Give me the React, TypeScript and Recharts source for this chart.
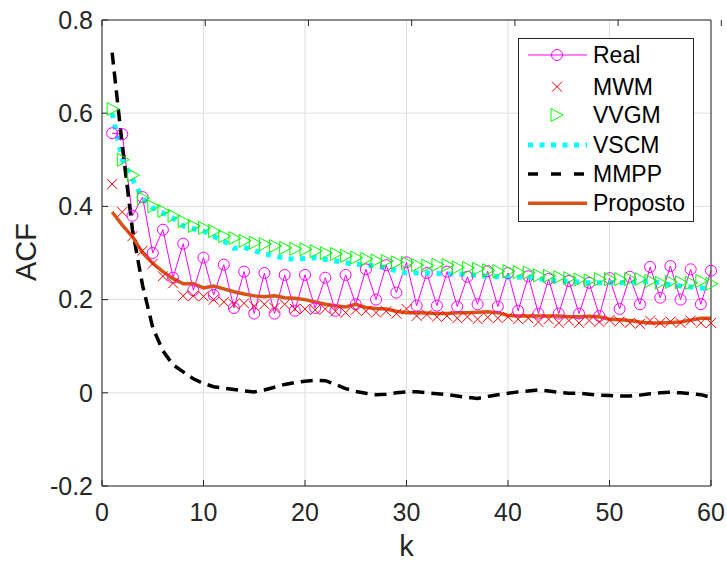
import { CartesianGrid, Legend, Line, LineChart, XAxis, YAxis } from "recharts";

const kValues = [
  1, 2, 3, 4, 5, 6, 7, 8, 9, 10, 11, 12, 13, 14, 15, 16, 17, 18, 19, 20,
  21, 22, 23, 24, 25, 26, 27, 28, 29, 30, 31, 32, 33, 34, 35, 36, 37, 38, 39, 40,
  41, 42, 43, 44, 45, 46, 47, 48, 49, 50, 51, 52, 53, 54, 55, 56, 57, 58, 59, 60,
];

const realAcf = [
  0.557, 0.555, 0.38, 0.42, 0.3, 0.35, 0.247, 0.32, 0.22, 0.29,
  0.21, 0.275, 0.182, 0.26, 0.17, 0.257, 0.17, 0.253, 0.176, 0.253,
  0.182, 0.247, 0.176, 0.253, 0.19, 0.265, 0.2, 0.274, 0.215, 0.28,
  0.187, 0.257, 0.187, 0.26, 0.185, 0.249, 0.19, 0.261, 0.185, 0.257,
  0.176, 0.25, 0.17, 0.244, 0.17, 0.24, 0.17, 0.236, 0.165, 0.246,
  0.18, 0.249, 0.19, 0.27, 0.204, 0.272, 0.2, 0.265, 0.19, 0.262,
];

const mwmAcf = [
  0.448, 0.388, 0.336, 0.305, 0.277, 0.25, 0.235, 0.208, 0.208, 0.207,
  0.2, 0.195, 0.19, 0.192, 0.186, 0.19, 0.182, 0.19, 0.18, 0.18,
  0.178, 0.18, 0.175, 0.172, 0.178, 0.175, 0.172, 0.175, 0.17, 0.18,
  0.165, 0.168, 0.163, 0.165, 0.16, 0.163, 0.158, 0.162, 0.16, 0.163,
  0.158, 0.16, 0.152, 0.158, 0.15, 0.155, 0.15, 0.155, 0.152, 0.156,
  0.153, 0.15, 0.148, 0.155, 0.15, 0.153, 0.15, 0.155, 0.15, 0.15,
];

const vvgmAcf = [
  0.609, 0.5, 0.467, 0.418, 0.4, 0.39, 0.38, 0.368, 0.358, 0.354,
  0.347, 0.336, 0.332, 0.326, 0.322, 0.319, 0.315, 0.311, 0.309, 0.308,
  0.304, 0.3, 0.298, 0.294, 0.29, 0.287, 0.284, 0.283, 0.28, 0.279,
  0.274, 0.273, 0.275, 0.274, 0.269, 0.268, 0.266, 0.263, 0.261, 0.261,
  0.259, 0.258, 0.252, 0.251, 0.248, 0.246, 0.243, 0.241, 0.244, 0.244,
  0.244, 0.244, 0.244, 0.24, 0.236, 0.238, 0.237, 0.236, 0.24, 0.234,
];

const vscmAcf = [
  0.6, 0.5, 0.458, 0.418, 0.397, 0.386, 0.375, 0.358, 0.352, 0.347,
  0.336, 0.326, 0.31, 0.312, 0.305, 0.298, 0.294, 0.288, 0.287, 0.288,
  0.29, 0.286, 0.283, 0.279, 0.276, 0.274, 0.272, 0.268, 0.262, 0.257,
  0.257, 0.257, 0.256, 0.255, 0.255, 0.254, 0.252, 0.25, 0.249, 0.247,
  0.248, 0.249, 0.245, 0.241, 0.24, 0.24, 0.238, 0.236, 0.236, 0.236,
  0.236, 0.237, 0.238, 0.24, 0.236, 0.232, 0.229, 0.227, 0.225, 0.222,
];

const mmppAcf = [
  0.73, 0.53, 0.35, 0.23, 0.14, 0.09, 0.06, 0.045, 0.03, 0.02,
  0.013, 0.01, 0.007, 0.004, 0.002, 0.006, 0.012, 0.018, 0.022, 0.025,
  0.027, 0.026, 0.018, 0.009, 0.003, -0.001, -0.004, -0.003, 0, 0.002,
  0.002, 0, -0.002, -0.004, -0.007, -0.01, -0.012, -0.008, -0.004, -0.001,
  0.002, 0.004, 0.006, 0.004, 0.001, -0.001, -0.001, -0.003, -0.005, -0.006,
  -0.007, -0.007, -0.005, -0.002, 0, 0.001, 0, -0.002, -0.004, -0.01,
];

const propostoAcf = [
  0.388, 0.36, 0.335, 0.3, 0.278, 0.26, 0.245, 0.234, 0.234, 0.225,
  0.229, 0.223, 0.217, 0.212, 0.208, 0.206, 0.208, 0.204, 0.203, 0.2,
  0.195, 0.19, 0.187, 0.184, 0.19, 0.183, 0.181, 0.18, 0.175, 0.172,
  0.172, 0.171, 0.17, 0.17, 0.172, 0.172, 0.173, 0.174, 0.172, 0.166,
  0.165, 0.165, 0.165, 0.165, 0.165, 0.163, 0.163, 0.164, 0.163, 0.158,
  0.157, 0.155, 0.152, 0.15, 0.15, 0.151, 0.152, 0.156, 0.16, 0.16,
];

const xTicks = [0, 10, 20, 30, 40, 50, 60];
const yTicks = [-0.2, 0, 0.2, 0.4, 0.6, 0.8];
const seriesNames = ["Real", "MWM", "VVGM", "VSCM", "MMPP", "Proposto"];

const data = kValues.map((k, i) => ({
  k,
  real: realAcf[i],
  mwm: mwmAcf[i],
  vvgm: vvgmAcf[i],
  vscm: vscmAcf[i],
  mmpp: mmppAcf[i],
  proposto: propostoAcf[i],
}));

const FONT = '"Liberation Sans", Arial, Helvetica, sans-serif';
const AXIS = "#262626";
const MAGENTA = "#ff00ff";
const RED = "#ff0000";
const GREEN = "#00ff00";
const CYAN = "#00ffff";
const ORANGE = "#d95319";

// marker shapes, MATLAB style
const circleMark = (x: number, y: number, key?: string) => (
  <circle key={key} cx={x} cy={y} r={5.5} fill="none" stroke={MAGENTA} strokeWidth={1} />
);
const crossMark = (x: number, y: number, key?: string) => (
  <path key={key} d={`M${x - 5},${y - 5}L${x + 5},${y + 5}M${x - 5},${y + 5}L${x + 5},${y - 5}`} stroke={RED} strokeWidth={1} fill="none" />
);
const triMark = (x: number, y: number, key?: string) => (
  <path key={key} d={`M${x - 5},${y - 6.5}L${x + 7},${y}L${x - 5},${y + 6.5}Z`} stroke={GREEN} strokeWidth={1} fill="none" />
);

const dotWith = (mark: typeof circleMark, prefix: string) => (p: any) => {
  if (p.cx == null || p.cy == null) return <g key={`${prefix}-${p.index}`} />;
  return mark(p.cx, p.cy, `${prefix}-${p.index}`);
};

function LegendBox() {
  const rows = [17, 48.7, 77, 107, 136, 165.3];
  const x0 = 10;
  const x1 = 69;
  const xm = 39;
  return (
    <svg width={176} height={184} style={{ display: "block" }}>
      <rect x={0.5} y={0.5} width={175} height={183} fill="#ffffff" stroke={AXIS} strokeWidth={1} />
      <line x1={x0} x2={x1} y1={rows[0]} y2={rows[0]} stroke={MAGENTA} strokeWidth={1} />
      {circleMark(xm, rows[0])}
      {crossMark(xm, rows[1])}
      {triMark(xm - 1, rows[2])}
      <line x1={x0} x2={x1} y1={rows[3]} y2={rows[3]} stroke={CYAN} strokeWidth={5} strokeDasharray="5 6.5" />
      <line x1={x0} x2={x1} y1={rows[4]} y2={rows[4]} stroke="#000000" strokeWidth={3.5} strokeDasharray="10 13" />
      <line x1={x0} x2={x1} y1={rows[5]} y2={rows[5]} stroke={ORANGE} strokeWidth={3.5} />
      {seriesNames.map((name, i) => (
        <text key={name} x={75} y={rows[i] + 8} fontSize={23} fontFamily={FONT} fill="#000000">
          {name}
        </text>
      ))}
    </svg>
  );
}

export default function App() {
  return (
    <div style={{ position: "absolute", left: 0, top: 0, background: "#ffffff" }}>
      <LineChart width={727} height={563} data={data} margin={{ top: 19, right: 15, bottom: 0, left: 0 }}>
        <CartesianGrid stroke="#dfdfdf" strokeWidth={1} />
        <XAxis
          dataKey="k"
          type="number"
          domain={[0, 60]}
          ticks={xTicks}
          height={77}
          stroke={AXIS}
          tickSize={-6}
          tickMargin={23}
          tick={{ fill: AXIS, fontSize: 25, fontFamily: FONT }}
          label={{
            content: () => (
              <text x={406.5} y={556} textAnchor="middle" fontSize={29} fontFamily={FONT} fill={AXIS}>
                k
              </text>
            ),
          }}
        />
        <XAxis xAxisId="top" orientation="top" type="number" domain={[0, 60]} ticks={xTicks} height={1} stroke={AXIS} tickSize={-6} tickFormatter={() => ""} />
        <YAxis
          type="number"
          domain={[-0.2, 0.8]}
          ticks={yTicks}
          width={102}
          stroke={AXIS}
          tickSize={-6}
          tickMargin={15}
          tick={{ fill: AXIS, fontSize: 25, fontFamily: FONT }}
          tickFormatter={(v: number) => (v === 0 ? "0" : String(v))}
          label={{
            content: () => (
              <text x={36} y={252} transform="rotate(-90 36 252)" textAnchor="middle" fontSize={29} fontFamily={FONT} fill={AXIS}>
                ACF
              </text>
            ),
          }}
        />
        <YAxis yAxisId="right" orientation="right" type="number" domain={[-0.2, 0.8]} ticks={yTicks} width={1} stroke={AXIS} tickSize={-6} tickFormatter={() => ""} />
        <Line dataKey="real" name="Real" stroke={MAGENTA} strokeWidth={1} dot={dotWith(circleMark, "real")} isAnimationActive={false} />
        <Line dataKey="mwm" name="MWM" stroke="none" dot={dotWith(crossMark, "mwm")} isAnimationActive={false} />
        <Line dataKey="vvgm" name="VVGM" stroke="none" dot={dotWith(triMark, "vvgm")} isAnimationActive={false} />
        <Line dataKey="vscm" name="VSCM" stroke={CYAN} strokeWidth={5} strokeDasharray="5 6.5" dot={false} isAnimationActive={false} />
        <Line dataKey="mmpp" name="MMPP" stroke="#000000" strokeWidth={3.5} strokeDasharray="12 7" dot={false} isAnimationActive={false} />
        <Line dataKey="proposto" name="Proposto" stroke={ORANGE} strokeWidth={3.5} dot={false} isAnimationActive={false} />
        <Legend
          layout="horizontal"
          verticalAlign="middle"
          align="center"
          content={() => <LegendBox />}
          wrapperStyle={{ position: "absolute", left: 518, top: 38, width: 176, height: 184, lineHeight: 0 }}
        />
      </LineChart>
    </div>
  );
}
